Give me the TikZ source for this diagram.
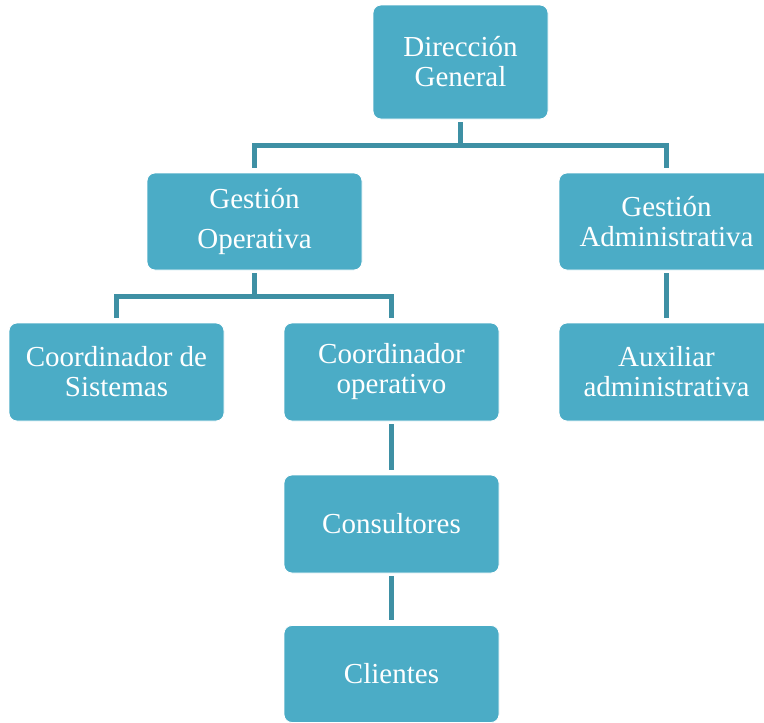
\documentclass[tikz,border=0pt]{standalone}
\usepackage{fontspec}
\setmainfont{Liberation Serif}
\definecolor{boxfill}{HTML}{4BACC6}
\definecolor{connclr}{RGB}{62,144,164}
\tikzset{
  orgbox/.style={rectangle, rounded corners=8pt, fill=boxfill, draw=white, line width=0.8pt,
    text=white, align=center, inner sep=0pt,
    font=\fontsize{29}{30}\selectfont},
  conn/.style={draw=connclr, line width=5.5pt},
}
\begin{document}
\begin{tikzpicture}[x=1pt,y=-1pt]
\useasboundingbox (0,0) rectangle (764,723);
\node[orgbox, minimum width=175pt, minimum height=114pt] (dg) at (460.5,62) {Dirección\\General};
\node[orgbox, minimum width=215pt, minimum height=97pt, font=\fontsize{29}{40}\selectfont] (go) at (254.5,221.5) {Gestión\\Operativa};
\node[orgbox, minimum width=215pt, minimum height=97pt] (ga) at (666.5,221.5) {Gestión\\Administrativa};
\node[orgbox, minimum width=215pt, minimum height=98pt] (cs) at (116.5,372) {Coordinador de\\Sistemas};
\node[orgbox, minimum width=215pt, minimum height=98pt] (co) at (391.5,372) {Coordinador\\operativo};
\node[orgbox, minimum width=215pt, minimum height=98pt] (aux) at (666.5,372) {Auxiliar\\administrativa};
\node[orgbox, minimum width=215pt, minimum height=98pt] (con) at (391.5,524) {Consultores};
\node[orgbox, minimum width=215pt, minimum height=97pt] (cli) at (391.5,674) {Clientes};

\coordinate (b1) at (460.5,145.5);
\coordinate (b2) at (254.5,296.5);

\draw[conn, shorten <=3pt] (dg.south) -- (b1);
\draw[conn, shorten <=5pt, shorten >=5pt] (go.north) |- (b1) -| (ga.north);
\draw[conn, shorten <=3pt] (go.south) -- (b2);
\draw[conn, shorten <=5pt, shorten >=5pt] (cs.north) |- (b2) -| (co.north);
\draw[conn, shorten <=3pt, shorten >=5pt] (ga.south) -- (aux.north);
\draw[conn, shorten <=3pt, shorten >=5pt] (co.south) -- (con.north);
\draw[conn, shorten <=3pt, shorten >=5pt] (con.south) -- (cli.north);
\end{tikzpicture}
\end{document}
